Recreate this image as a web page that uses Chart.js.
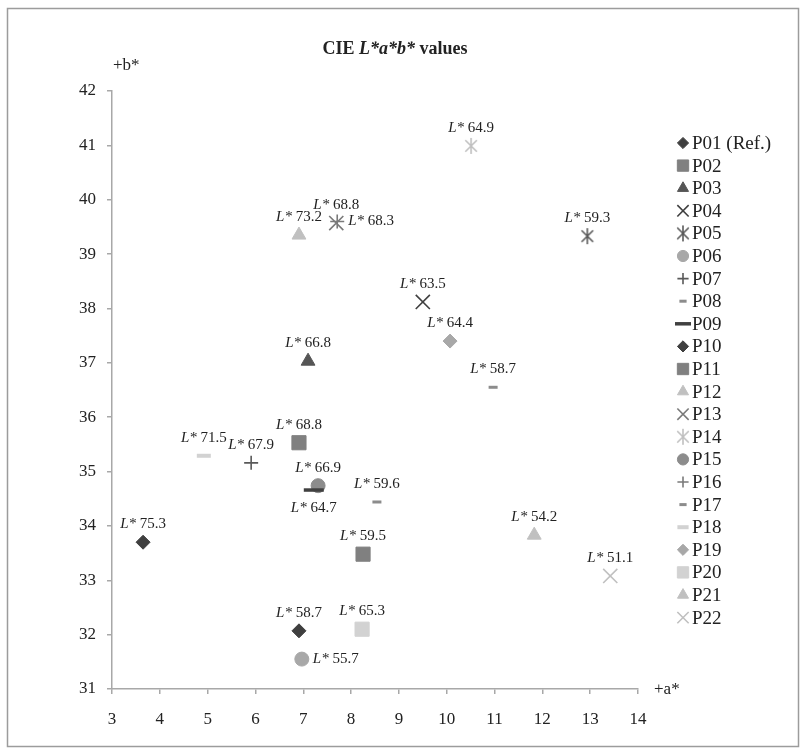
<!DOCTYPE html>
<html>
<head>
<meta charset="utf-8">
<script src="https://cdn.jsdelivr.net/npm/chart.js@4.4.1/dist/chart.umd.min.js"></script>
<style>
  html, body { margin: 0; padding: 0; background: #fff; }
  #wrap { width: 806px; height: 752px; }
</style>
</head>
<body>
<div id="wrap"><canvas id="labChart" width="806" height="752"></canvas></div>
<script>
// sample names, a*, b*, L*
const samples = ['P01 (Ref.)', 'P02', 'P03', 'P04', 'P05', 'P06', 'P07', 'P08', 'P09', 'P10', 'P11',
                 'P12', 'P13', 'P14', 'P15', 'P16', 'P17', 'P18', 'P19', 'P20', 'P21', 'P22'];
const aStar = [3.65, 8.25, 7.10, 9.50, 12.94, 6.97, 5.91, 10.97, 7.22, 6.91, 6.91,
               6.91, 7.69, 10.51, 7.31, 7.71, 8.54, 4.92, 10.07, 8.23, 11.83, 13.42];
const bStar = [33.70, 33.48, 37.03, 38.12, 39.33, 31.55, 35.16, 36.55, 34.66, 32.07, 35.53,
               39.35, 39.57, 40.99, 34.74, 39.60, 34.44, 35.29, 37.40, 32.10, 33.83, 33.08];
const lStar = [75.3, 59.5, 66.8, 63.5, 59.3, 55.7, 67.9, 58.7, 64.7, 58.7, 68.8,
               73.2, 68.8, 64.9, 66.9, 68.3, 59.6, 71.5, 64.4, 65.3, 54.2, 51.1];
const aRange = [3, 14];
const bRange = [31, 42];

// marker look per sample
const markers = [
  { style: 'rectRot',  color: '#3f3f3f', r: 7 },
  { style: 'rect',     color: '#808080', r: 10 },
  { style: 'triangle', color: '#555555', r: 8 },
  { style: 'crossRot', color: '#404040', r: 10, bw: 1.6 },
  { style: 'asterisk', color: '#5a5a5a', r: 8 },
  { style: 'circle',   color: '#a8a8a8', r: 7 },
  { style: 'cross',    color: '#595959', r: 7, bw: 1.6 },
  { style: 'line',     color: '#8c8c8c', r: 4.5, bw: 3 },
  { style: 'line',     color: '#404040', r: 10, bw: 3.5 },
  { style: 'rectRot',  color: '#3f3f3f', r: 7 },
  { style: 'rect',     color: '#808080', r: 10 },
  { style: 'triangle', color: '#c0c0c0', r: 8 },
  { style: 'crossRot', color: '#7a7a7a', r: 10, bw: 1.6 },
  { style: 'asterisk', color: '#c0c0c0', r: 8 },
  { style: 'circle',   color: '#8c8c8c', r: 7 },
  { style: 'cross',    color: '#7a7a7a', r: 7, bw: 1.6 },
  { style: 'line',     color: '#8c8c8c', r: 4.5, bw: 3 },
  { style: 'line',     color: '#d2d2d2', r: 7, bw: 4 },
  { style: 'rectRot',  color: '#a8a8a8', r: 7 },
  { style: 'rect',     color: '#d2d2d2', r: 10 },
  { style: 'triangle', color: '#c0c0c0', r: 8 },
  { style: 'crossRot', color: '#c0c0c0', r: 10, bw: 1.6 }
];
// where each L* label sits relative to its marker
const labelSide = ['above', 'above', 'above', 'above', 'above', 'right', 'above', 'above', 'below', 'above', 'above',
                   'above', 'above', 'above', 'above', 'right', 'above', 'above', 'above', 'above', 'above', 'above'];

const FONT = '"Liberation Serif", "Times New Roman", serif';

function asterisk(color, r) {
  const c = document.createElement('canvas');
  const s = Math.ceil(r * 2 + 2);
  c.width = s; c.height = s;
  const g = c.getContext('2d');
  const m = s / 2, d = r * 0.72;
  g.strokeStyle = color; g.lineWidth = 1.6;
  g.beginPath();
  g.moveTo(m - d, m - d); g.lineTo(m + d, m + d);
  g.moveTo(m + d, m - d); g.lineTo(m - d, m + d);
  g.moveTo(m, m - r); g.lineTo(m, m + r);
  g.stroke();
  return c;
}

const datasets = samples.map((name, i) => {
  const mk = markers[i];
  const style = mk.style === 'asterisk' ? asterisk(mk.color, mk.r) : mk.style;
  return {
    label: name,
    data: [{ x: aStar[i], y: bStar[i] }],
    pointStyle: style,
    pointRadius: mk.r,
    pointHoverRadius: mk.r,
    pointBackgroundColor: mk.color,
    pointBorderColor: mk.color,
    pointBorderWidth: mk.bw || 1
  };
});

// frame, title, axis names, L* labels and legend
const decorations = {
  id: 'decorations',
  beforeDraw(chart) {
    const ctx = chart.ctx;
    ctx.save();
    ctx.strokeStyle = '#9c9c9c';
    ctx.lineWidth = 1.5;
    ctx.strokeRect(7.5, 8.5, 791, 738);
    ctx.restore();
  },
  afterDatasetsDraw(chart) {
    const ctx = chart.ctx;
    const xs = chart.scales.x, ys = chart.scales.y;
    ctx.save();
    ctx.fillStyle = '#222';
    ctx.textBaseline = 'middle';

    // title
    const parts = [['CIE ', 'bold 18px ' + FONT], ['L*a*b*', 'italic bold 18px ' + FONT], [' values', 'bold 18px ' + FONT]];
    let tw = 0;
    parts.forEach(p => { ctx.font = p[1]; tw += ctx.measureText(p[0]).width; });
    let tx = 395 - tw / 2;
    parts.forEach(p => { ctx.font = p[1]; ctx.fillText(p[0], tx, 49); tx += ctx.measureText(p[0]).width; });

    // axis names
    ctx.font = '17px ' + FONT;
    ctx.fillText('+b*', xs.left + 1, 66);
    ctx.fillText('+a*', xs.right + 16, ys.bottom + 1);

    // L* labels
    const itF = 'italic 15px ' + FONT, rgF = '15px ' + FONT;
    lStar.forEach((v, i) => {
      const px = xs.getPixelForValue(aStar[i]);
      const py = ys.getPixelForValue(bStar[i]);
      const num = ' ' + v.toFixed(1);
      ctx.font = itF; const w1 = ctx.measureText('L*').width;
      ctx.font = rgF; const w2 = ctx.measureText(num).width;
      let lx, ly;
      if (labelSide[i] === 'right') { lx = px + 11; ly = py; }
      else if (labelSide[i] === 'below') { lx = px - (w1 + w2) / 2; ly = py + 18; }
      else { lx = px - (w1 + w2) / 2; ly = py - 18; }
      ctx.font = itF; ctx.fillText('L*', lx, ly);
      ctx.font = rgF; ctx.fillText(num, lx + w1, ly);
    });

    // legend
    chart.data.datasets.forEach((ds, i) => {
      const y = 143 + i * 22.6;
      ctx.fillStyle = ds.pointBackgroundColor;
      ctx.strokeStyle = ds.pointBorderColor;
      ctx.lineWidth = ds.pointBorderWidth;
      Chart.helpers.drawPoint(ctx, {
        pointStyle: ds.pointStyle,
        radius: ds.pointRadius * 0.8,
        rotation: 0,
        borderWidth: ds.pointBorderWidth
      }, 683, y);
      ctx.fillStyle = '#222';
      ctx.font = '19px ' + FONT;
      ctx.fillText(ds.label, 692, y + 1);
    });
    ctx.restore();
  }
};

const axisColor = '#a8a8a8';
const ctx = document.getElementById('labChart').getContext('2d');
new Chart(ctx, {
  type: 'scatter',
  data: { datasets: datasets },
  options: {
    responsive: false,
    animation: false,
    events: [],
    layout: { padding: { top: 91, right: 168, bottom: 20, left: 10 } },
    scales: {
      x: {
        type: 'linear',
        min: aRange[0],
        max: aRange[1],
        ticks: { stepSize: 1, color: '#222', font: { family: FONT, size: 17 }, padding: 15 },
        grid: { drawOnChartArea: false, drawTicks: true, tickLength: 5, color: axisColor, lineWidth: 1.5 },
        border: { color: axisColor, width: 1.5 },
        afterFit: s => { s.height = 43; }
      },
      y: {
        type: 'linear',
        min: bRange[0],
        max: bRange[1],
        ticks: { stepSize: 1, color: '#222', font: { family: FONT, size: 17 }, padding: 11 },
        grid: { drawOnChartArea: false, drawTicks: true, tickLength: 5, color: axisColor, lineWidth: 1.5 },
        border: { color: axisColor, width: 1.5 },
        afterFit: s => { s.width = 102; }
      }
    },
    plugins: {
      legend: { display: false },
      title: { display: false },
      tooltip: { enabled: false }
    }
  },
  plugins: [decorations]
});
</script>
</body>
</html>
